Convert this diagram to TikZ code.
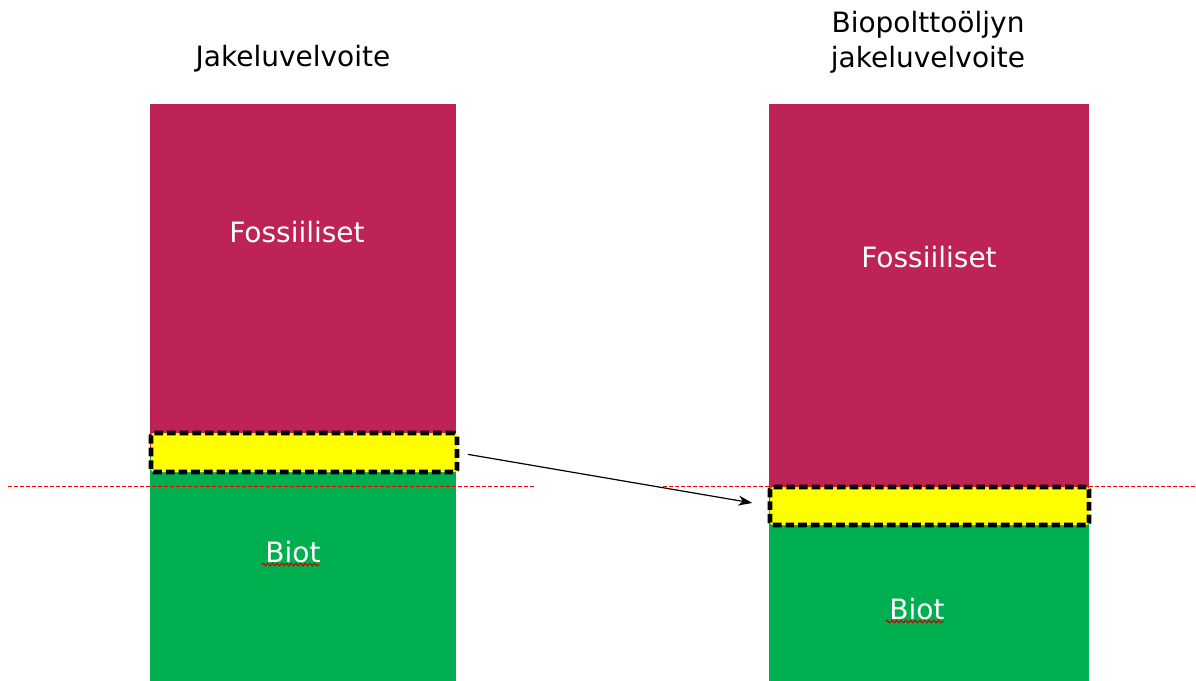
\documentclass[tikz,border=0pt]{standalone}
\usepackage{fontspec}
\setmainfont{DejaVu Sans}
\usetikzlibrary{arrows.meta, decorations.pathmorphing}
\definecolor{fossil}{RGB}{190,35,85}
\definecolor{bio}{RGB}{0,176,80}
\definecolor{share}{RGB}{255,255,0}
\tikzstyle{bar} = [rectangle, inner sep=0pt, outer sep=0pt, anchor=north west]
\tikzstyle{share} = [rectangle, fill=share, draw=black, line width=3.5pt, dash pattern=on 6.5pt off 3pt, rounded corners=2pt, inner sep=0pt, outer sep=0pt, anchor=north west]
\tikzstyle{label} = [text=white, font=\fontsize{21}{26}\selectfont]
\tikzstyle{title} = [align=center, font=\fontsize{21}{26}\selectfont]
\tikzstyle{arrow} = [line width=0.9pt,-{Stealth[length=10.5pt,width=7.5pt]}]
\tikzstyle{limit} = [red, line width=0.7pt, dash pattern=on 3pt off 1.5pt]
\tikzstyle{spell} = [red!80!black, line width=0.8pt, decorate, decoration={snake, amplitude=1pt, segment length=3.5pt}]

\begin{document}
\begin{tikzpicture}[x=0.75pt, y=-0.75pt]
            \useasboundingbox (0,0) rectangle (1196,681);

            \node (fosl) [bar, fill=fossil, minimum width=306*0.75pt, minimum height=348*0.75pt] at (150,104) {};
            \node (biol) [bar, fill=bio, minimum width=306*0.75pt, minimum height=229*0.75pt] at (150,452) {};
            \node (fosr) [bar, fill=fossil, minimum width=320*0.75pt, minimum height=402*0.75pt] at (769,104) {};
            \node (bior) [bar, fill=bio, minimum width=320*0.75pt, minimum height=175*0.75pt] at (769,506) {};

            \coordinate (l1) at (8,486);
            \coordinate (l2) at (535,486);
            \coordinate (r1) at (663,486);
            \coordinate (r2) at (1196,486);
            \draw [limit] (l1) -- (l2);
            \draw [limit] (r1) -- (r2);

            \node (yl) [share, minimum width=306*0.75pt, minimum height=39*0.75pt] at (151,433) {};
            \node (yr) [share, minimum width=319*0.75pt, minimum height=38*0.75pt] at (770,487) {};

            \draw [arrow, shorten <=11*0.75pt, shorten >=18*0.75pt] (yl.east) -- (yr.west);

            \node (tl) [title] at (293,59) {Jakeluvelvoite};
            \node (tr) [title] at (928,42) {Biopolttoöljyn\\jakeluvelvoite};

            \node (fl) [label] at (297,232) {Fossiiliset};
            \node (fr) [label] at (929,257) {Fossiiliset};
            \node (bl) [label] at (293,552) {Biot};
            \node (br) [label] at (917,609) {Biot};

            \draw [spell] (bl.south west) ++(1,-3) -- ++(58,0);
            \draw [spell] (br.south west) ++(1,-3) -- ++(58,0);
        \end{tikzpicture}
\end{document}
